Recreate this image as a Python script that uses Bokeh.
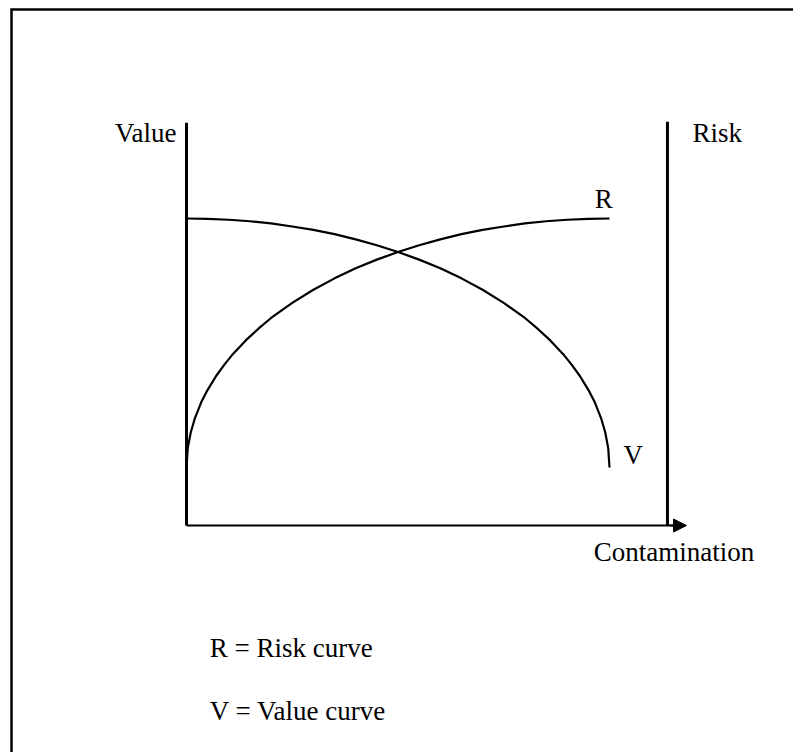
from bokeh.plotting import figure
from bokeh.models import Label, Arrow, NormalHead, Range1d
from bokeh.embed import file_html
from bokeh.resources import INLINE

# Contamination (x) sample points and curve values
x_v = [0.0, 0.5, 1.0, 1.5, 2.0, 2.5, 3.0, 3.5, 4.0, 4.5, 5.0, 5.5, 6.0, 6.5, 7.0,
       7.5, 8.0, 8.3, 8.6, 8.9, 9.1, 9.3, 9.5, 9.65, 9.8, 9.9, 9.97, 10.0]
value = [10.00, 9.99, 9.96, 9.91, 9.84, 9.74, 9.63, 9.49, 9.32, 9.13, 8.91, 8.66, 8.38, 8.05, 7.68,
         7.25, 6.76, 6.41, 6.03, 5.59, 5.25, 4.87, 4.42, 4.02, 3.50, 3.03, 2.52, 1.89]

x_r = [0.0, 0.03, 0.1, 0.2, 0.35, 0.5, 0.7, 0.9, 1.1, 1.4, 1.7, 2.0, 2.5, 3.0, 3.5,
       4.0, 4.5, 5.0, 5.5, 6.0, 6.5, 7.0, 7.5, 8.0, 8.5, 9.0, 9.5, 10.0]
risk = [1.89, 2.52, 3.03, 3.50, 4.02, 4.42, 4.87, 5.25, 5.59, 6.03, 6.41, 6.76, 7.25, 7.68, 8.05,
        8.38, 8.66, 8.91, 9.13, 9.32, 9.49, 9.63, 9.74, 9.84, 9.91, 9.96, 9.99, 10.00]

axis_top = 13.12
risk_axis_x = 11.37
arrow_end = 11.82

font = "Liberation Serif"
fs = "27px"

W, H = 793, 752
x0, x1 = -186 / 42.3, (W - 186) / 42.3
y0, y1 = (525 - H) / 30.7, 525 / 30.7
p = figure(width=W, height=H, output_backend="svg", toolbar_location=None,
           x_range=Range1d(x0, x1), y_range=Range1d(y0, y1),
           min_border=0, min_border_left=0, min_border_right=0,
           min_border_top=0, min_border_bottom=0)
p.axis.visible = False
p.grid.visible = False
p.outline_line_color = None
p.background_fill_color = "white"

# outer frame (left and top edges visible; others run off the page)
frame_left, frame_top = -4.137, 16.81
p.line([frame_left, frame_left, x1 + 1], [y0 - 1, frame_top, frame_top],
       line_color="black", line_width=2.5, line_join="miter")

# axes
p.line([0, 0], [0, axis_top], line_color="black", line_width=3)
p.line([risk_axis_x, risk_axis_x], [0, axis_top + 0.03], line_color="black", line_width=3)
p.line([0, arrow_end - 0.3], [0, 0], line_color="black", line_width=2)
p.add_layout(Arrow(x_start=arrow_end - 0.4, y_start=0, x_end=arrow_end, y_end=0,
                   line_color="black", line_width=2,
                   end=NormalHead(size=13, fill_color="black", line_color="black")))

# curves
p.line(x_r, risk, line_color="black", line_width=2.2, line_join="round")
p.line(x_v, value, line_color="black", line_width=2.2, line_join="round")

def lab(x, y, t, align="left"):
    p.add_layout(Label(x=x, y=y, text=t, text_font=font, text_font_size=fs,
                       text_color="black", text_align=align, text_baseline="alphabetic"))

lab(-0.236, 12.77, "Value", "right")
lab(11.96, 12.77, "Risk")
lab(9.65, 10.65, "R")
lab(10.33, 2.31, "V")
lab(9.63, -0.85, "Contamination")
lab(0.55, -4.0, "R = Risk curve")
lab(0.55, -6.03, "V = Value curve")

open("out.html", "w").write(file_html(p, INLINE))
